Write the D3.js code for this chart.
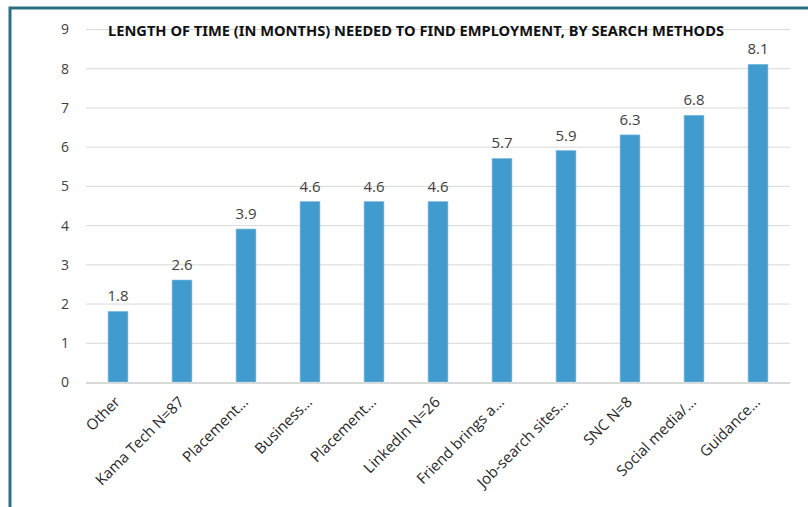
<!DOCTYPE html>
<html>
<head>
<meta charset="utf-8">
<script src="https://cdn.jsdelivr.net/npm/d3@7"></script>
<style>
  html, body { margin: 0; padding: 0; background: #fff; }
  svg { display: block; }
</style>
</head>
<body>
<svg id="chart" width="808" height="507"></svg>
<script>
// Search methods and average months to find employment
const categories = [
  "Other", "Kama Tech N=87", "Placement…", "Business…", "Placement…",
  "LinkedIn N=26", "Friend brings a…", "Job-search sites…", "SNC N=8",
  "Social media/…", "Guidance…"
];
const months = [1.8, 2.6, 3.9, 4.6, 4.6, 4.6, 5.7, 5.9, 6.3, 6.8, 8.1];
const yTicks = [0, 1, 2, 3, 4, 5, 6, 7, 8, 9];
const title = "LENGTH OF TIME (IN MONTHS) NEEDED TO FIND EMPLOYMENT, BY SEARCH METHODS";

const svg = d3.select("#chart");
const W = 808, H = 507;
const plot = { left: 86, right: 790, top: 29, bottom: 382 };

// Frame around the chart area
svg.append("path")
  .attr("d", `M10,${H} L10,8 L${W},8`)
  .attr("fill", "none")
  .attr("stroke", "#2b6f80")
  .attr("stroke-width", 3);

const x = d3.scaleBand()
  .domain(d3.range(categories.length))
  .range([plot.left, plot.right])
  .paddingInner(0.69)
  .paddingOuter(0.345);

const y = d3.scaleLinear()
  .domain([0, 9])
  .range([plot.bottom, plot.top]);

// Horizontal gridlines
svg.append("g")
  .selectAll("line")
  .data(yTicks.filter(d => d > 0))
  .join("line")
  .attr("x1", plot.left)
  .attr("x2", plot.right)
  .attr("y1", d => y(d) + 0.5)
  .attr("y2", d => y(d) + 0.5)
  .attr("stroke", "#d9d9d9")
  .attr("stroke-width", 1);

// Y-axis labels
const yAxis = d3.axisLeft(y).tickValues(yTicks).tickSize(0).tickPadding(0);
const yG = svg.append("g")
  .attr("transform", `translate(69,0)`)
  .call(yAxis);
yG.select(".domain").remove();
yG.selectAll("text")
  .attr("font-family", "'Open Sans', sans-serif")
  .attr("font-size", 14)
  .attr("fill", "#404040")
  .attr("dy", "0.35em");

// Bars
svg.append("g")
  .selectAll("rect")
  .data(months)
  .join("rect")
  .attr("x", (d, i) => x(i))
  .attr("y", d => y(d))
  .attr("width", x.bandwidth())
  .attr("height", d => y(0) - y(d))
  .attr("fill", "#419bcf")
  .attr("stroke", "#7fbde3")
  .attr("stroke-width", 0.6);

// Baseline
svg.append("line")
  .attr("x1", plot.left)
  .attr("x2", plot.right)
  .attr("y1", y(0) + 1)
  .attr("y2", y(0) + 1)
  .attr("stroke", "#d9d9d9")
  .attr("stroke-width", 2);

// Value labels
svg.append("g")
  .selectAll("text")
  .data(months)
  .join("text")
  .attr("x", (d, i) => x(i) + x.bandwidth() / 2)
  .attr("y", d => y(d) - 10)
  .attr("text-anchor", "middle")
  .attr("font-family", "'Open Sans', sans-serif")
  .attr("font-size", 15)
  .attr("fill", "#404040")
  .text(d => d.toFixed(1));

// Category labels, rotated
svg.append("g")
  .selectAll("text")
  .data(categories)
  .join("text")
  .attr("transform", (d, i) => `translate(${x(i) + x.bandwidth() / 2 + 3},${plot.bottom + 21}) rotate(-45)`)
  .attr("text-anchor", "end")
  .attr("font-family", "'Open Sans', sans-serif")
  .attr("font-size", 15)
  .attr("fill", "#262626")
  .text(d => d);

// Title
svg.append("text")
  .attr("x", 108)
  .attr("y", 36)
  .attr("textLength", 616)
  .attr("lengthAdjust", "spacingAndGlyphs")
  .attr("font-family", "'Noto Sans', sans-serif")
  .attr("font-weight", "bold")
  .attr("font-size", 15)
  .attr("fill", "#111")
  .text(title);
</script>
</body>
</html>
